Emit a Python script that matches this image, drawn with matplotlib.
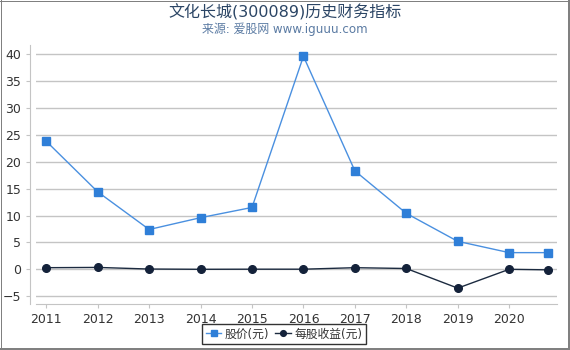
import matplotlib
matplotlib.use("Agg")
import matplotlib.pyplot as plt
from matplotlib.lines import Line2D

plt.rcParams['font.family'] = ['DejaVu Sans', 'Noto Sans CJK SC']

title = "文化长城(300089)历史财务指标"
subtitle = "来源: 爱股网 www.iguuu.com"
years = [2011, 2012, 2013, 2014, 2015, 2016, 2017, 2018, 2019, 2020, 2020.75]
year_ticks = [2011, 2012, 2013, 2014, 2015, 2016, 2017, 2018, 2019, 2020]
price = [23.8, 14.4, 7.4, 9.6, 11.5, 39.6, 18.3, 10.4, 5.2, 3.1, 3.1]
eps = [0.3, 0.35, 0.05, 0.0, 0.02, 0.02, 0.3, 0.15, -3.5, 0.0, -0.1]
series_names = ["股价(元)", "每股收益(元)"]

W, H = 570, 350
fig = plt.figure(figsize=(5.7, 3.5), dpi=100)
ax = fig.add_axes([36/W, 1-304/H, (557-36)/W, (304-45)/H])

ax.plot(years, price, color='#4a90e0', lw=1.0, marker='s', ms=6,
        mfc='#2f7fd8', mec='#2f7fd8', label=series_names[0], zorder=3)
ax.plot(years, eps, color='#1c2b40', lw=1.0, marker='o', ms=5.5,
        mfc='#14223a', mec='#14223a', label=series_names[1], zorder=3)

ax.set_xlim(2010.8, 2020.93)
ax.set_ylim(-6.45, 41.7)
ax.set_yticks(list(range(-5, 41, 5)))
ax.set_xticks(year_ticks)
ax.grid(axis='y', color='#c4c4c4', lw=1.0)
ax.set_axisbelow(True)
for s in ['top', 'right']:
    ax.spines[s].set_visible(False)
ax.spines['left'].set_position(('outward', 4))
ax.spines['left'].set_color('#c4c4c4')
ax.spines['bottom'].set_color('#c4c4c4')
ax.tick_params(axis='both', colors='#c4c4c4', labelcolor='#333333', labelsize=9, length=3)

fig.text(0.5, 1-12/H, title, ha='center', va='center', fontsize=11.5, color='#2b4565')
fig.text(0.5, 1-29/H, subtitle, ha='center', va='center', fontsize=8.6, color='#5b7ba3')

leg = fig.legend(loc='center', bbox_to_anchor=(284/W, 1-334/H), ncol=2, fontsize=8.5,
                 frameon=True, fancybox=False, edgecolor='black', handlelength=1.3,
                 handletextpad=0.3, columnspacing=0.5, borderpad=0.3, markerscale=0.75)
leg.get_frame().set_linewidth(1.0)
for t in leg.get_texts():
    t.set_color('#333333')

bc = '#808080'
px = 0.72
fig.add_artist(Line2D([0, 1], [1-0.5/H, 1-0.5/H], transform=fig.transFigure, color=bc, lw=1*px))
fig.add_artist(Line2D([0.5/W, 0.5/W], [0, 1], transform=fig.transFigure, color=bc, lw=1*px))
fig.add_artist(Line2D([1-1/W, 1-1/W], [0, 1], transform=fig.transFigure, color=bc, lw=2*px))
fig.add_artist(Line2D([0, 1], [1.5/H, 1.5/H], transform=fig.transFigure, color=bc, lw=3*px))

fig.savefig('out.png', dpi=100)
